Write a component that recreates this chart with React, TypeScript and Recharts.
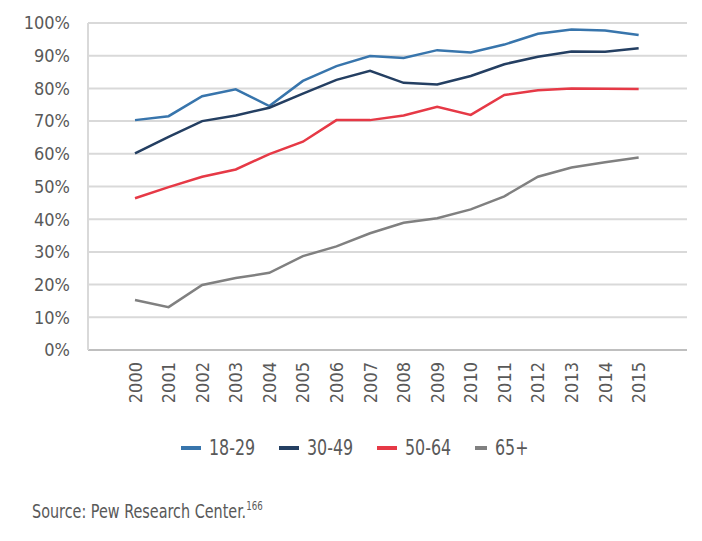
import { CartesianGrid, Legend, Line, LineChart, XAxis, YAxis } from 'recharts'

const years = [2000, 2001, 2002, 2003, 2004, 2005, 2006, 2007, 2008, 2009, 2010, 2011, 2012, 2013, 2014, 2015]
const age18to29 = [70.3, 71.5, 77.6, 79.7, 74.6, 82.3, 86.8, 89.9, 89.3, 91.7, 91.0, 93.4, 96.7, 98.0, 97.7, 96.3]
const age30to49 = [60.1, 65.2, 70.0, 71.7, 74.1, 78.4, 82.6, 85.4, 81.7, 81.2, 83.8, 87.4, 89.7, 91.3, 91.2, 92.3]
const age50to64 = [46.4, 49.8, 53.0, 55.2, 59.9, 63.7, 70.3, 70.3, 71.7, 74.4, 71.9, 78.0, 79.4, 80.0, 79.9, 79.8]
const age65plus = [15.3, 13.1, 19.9, 22.0, 23.6, 28.7, 31.7, 35.7, 38.9, 40.3, 43.0, 47.0, 53.0, 55.8, 57.4, 58.9]
const yTicks = [0, 10, 20, 30, 40, 50, 60, 70, 80, 90, 100]

const series = [
  { key: 'a', name: '18-29', values: age18to29, color: '#3875ac' },
  { key: 'b', name: '30-49', values: age30to49, color: '#243f62' },
  { key: 'c', name: '50-64', values: age50to64, color: '#e63946' },
  { key: 'd', name: '65+', values: age65plus, color: '#808080' },
]

const rows = years.map((year, i) => {
  const row: Record<string, number> = { year }
  series.forEach((s) => (row[s.key] = s.values[i]))
  return row
})

const FONT = "'DejaVu Sans Condensed', 'DejaVu Sans', sans-serif"
const TEXT = '#595959'

function YearTick({ x, y, payload }: any) {
  return (
    <text
      x={x}
      y={y}
      transform={`rotate(-90 ${x} ${y})`}
      textAnchor="end"
      dominantBaseline="central"
      fill={TEXT}
      fontSize={18}
      fontFamily={FONT}
      style={{ fontStretch: 'condensed' }}
    >
      {payload.value}
    </text>
  )
}

// condensed look: the narrow gothic of the original isn't installed
const squeeze = { display: 'inline-block', transform: 'scaleX(0.84)', transformOrigin: 'left center' }

function LegendRow() {
  return (
    <div style={{ display: 'flex', fontFamily: FONT, fontSize: 21, color: TEXT, fontStretch: 'condensed' }}>
      {series.map((s) => (
        <div key={s.key} style={{ display: 'flex', alignItems: 'center', width: s.name === '65+' ? 60 : 98 }}>
          <span style={{ display: 'inline-block', width: 20, height: 4, background: s.color, marginRight: 8 }} />
          <span style={squeeze}>{s.name}</span>
        </div>
      ))}
    </div>
  )
}

export default function App() {
  return (
    <div style={{ position: 'relative', width: 702, height: 541, margin: -8, overflow: 'hidden', background: '#fff' }}>
      <div
        style={{
          position: 'absolute',
          left: 4,
          top: 5,
          width: 740,
          height: 580,
          border: '2px solid #d9d9d9',
        }}
      />
      <LineChart width={702} height={541} data={rows} margin={{ top: 23, right: 15, bottom: 141, left: 0 }}>
        <CartesianGrid vertical={false} stroke="#d9d9d9" strokeWidth={2} />
        <XAxis
          dataKey="year"
          type="number"
          domain={[1998.6, 2016.44]}
          ticks={years}
          interval={0}
          allowDataOverflow
          height={50}
          tickSize={0}
          tickMargin={12}
          tick={<YearTick />}
          stroke="#bfbfbf"
          strokeWidth={2}
        />
        <YAxis
          domain={[0, 100]}
          ticks={yTicks}
          width={88}
          tickSize={0}
          tickMargin={18}
          tickFormatter={(v) => `${v}%`}
          tick={{ fill: TEXT, fontSize: 18, fontFamily: FONT, style: { fontStretch: 'condensed' } }}
          stroke="#d9d9d9"
          strokeWidth={2}
        />
        <Legend
          verticalAlign="middle"
          align="center"
          wrapperStyle={{ top: 436, left: 181, width: 400 }}
          content={() => <LegendRow />}
        />
        {series.map((s) => (
          <Line
            key={s.key}
            dataKey={s.key}
            name={s.name}
            stroke={s.color}
            strokeWidth={2.5}
            dot={false}
            type="linear"
            isAnimationActive={false}
          />
        ))}
      </LineChart>
      <div
        style={{
          position: 'absolute',
          left: 32,
          top: 499,
          fontFamily: FONT,
          fontSize: 20,
          color: TEXT,
          fontStretch: 'condensed',
          ...squeeze,
          transform: 'scaleX(0.8)',
        }}
      >
        Source: Pew Research Center.<sup style={{ fontSize: 12 }}>166</sup>
      </div>
    </div>
  )
}
